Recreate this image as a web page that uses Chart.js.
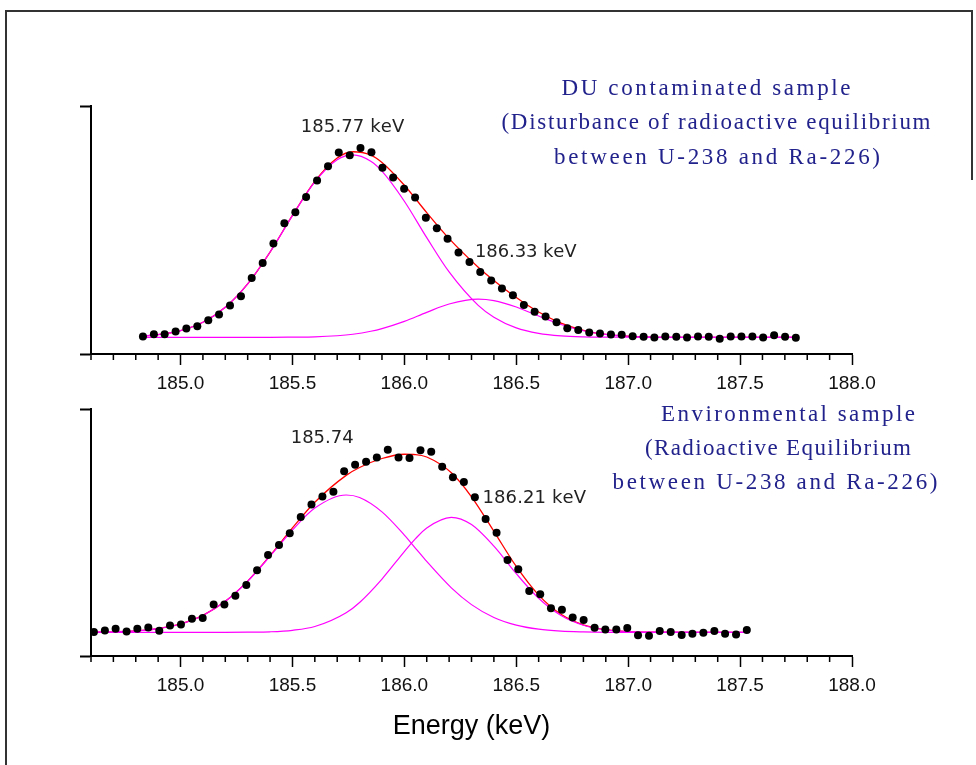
<!DOCTYPE html>
<html>
<head>
<meta charset="utf-8">
<script src="https://cdn.jsdelivr.net/npm/chart.js@4.4.1/dist/chart.umd.min.js"></script>
<style>
  body { margin: 0; background: #fff; }
  #page { position: relative; width: 976px; height: 765px; overflow: hidden; }
  canvas { position: absolute; left: 0; }
  #frame { position: absolute; left: 5px; top: 10px; width: 966px; height: 770px;
           border-left: 2px solid #333; border-top: 2px solid #333; }
  #frameRight { position: absolute; left: 971px; top: 10px; width: 0; height: 170px;
                border-left: 2px solid #333; }
</style>
</head>
<body>
<div id="page">
  <div id="frame"></div>
  <div id="frameRight"></div>
  <canvas id="topPanel" width="976" height="407" style="top:0"></canvas>
  <canvas id="lowPanel" width="976" height="365" style="top:400px"></canvas>
</div>
<script>
// axis ticks (keV)
const majorTicks = [185.0, 185.5, 186.0, 186.5, 187.0, 187.5, 188.0];
const minorTicks = [184.6, 184.7, 184.8, 184.9, 185.1, 185.2, 185.3, 185.4, 185.6, 185.7, 185.8, 185.9,
  186.1, 186.2, 186.3, 186.4, 186.6, 186.7, 186.8, 186.9, 187.1, 187.2, 187.3, 187.4,
  187.6, 187.7, 187.8, 187.9];

// DU contaminated sample - measured channels
const topEnergy = [184.832, 184.881, 184.929, 184.978, 185.026, 185.075, 185.124, 185.172, 185.221, 185.270,
  185.318, 185.367, 185.415, 185.464, 185.513, 185.561, 185.610, 185.659, 185.707, 185.756,
  185.804, 185.853, 185.902, 185.950, 185.999, 186.048, 186.096, 186.145, 186.193, 186.242,
  186.291, 186.339, 186.388, 186.436, 186.485, 186.534, 186.582, 186.631, 186.680, 186.728,
  186.777, 186.826, 186.874, 186.923, 186.971, 187.020, 187.069, 187.117, 187.166, 187.215,
  187.263, 187.312, 187.360, 187.409, 187.458, 187.506, 187.555, 187.603, 187.652, 187.701,
  187.749];
const topCounts = [17.7, 20, 20, 22.7, 25.7, 28, 34, 39.7, 49, 58.3,
  76.7, 91.7, 111.3, 131.7, 143, 158.3, 175, 189.3, 203, 200.3,
  207.7, 203.3, 187.7, 178, 166.5, 157.7, 137.3, 126.7, 116.3, 102.3,
  92.7, 82.7, 74, 66, 59.3, 49.3, 42.7, 37.7, 32, 26,
  24.3, 21.7, 20.7, 19.7, 19.3, 18, 17.3, 16.7, 17.7, 17.3,
  16.7, 17.7, 17.3, 15.3, 17.7, 17.7, 17.7, 16.7, 19, 17.3,
  16.3];

// DU contaminated sample - fitted curves
const topFitEnergy = [184.832, 184.9, 185.0, 185.1, 185.2, 185.3, 185.4, 185.5, 185.6, 185.7,
  185.77, 185.85, 185.9, 186.0, 186.1, 186.2, 186.33, 186.4, 186.5, 186.6,
  186.7, 186.8, 186.9, 187.0, 187.1, 187.3, 187.5, 187.749];
const topFitTotal = [18.2, 19.6, 23.6, 32.0, 47.1, 70.7, 102.8, 139.7, 174.0, 197.5,
  203.9, 200.5, 193.1, 170.1, 142.5, 116.3, 87.5, 74.1, 56.9, 42.3,
  31.2, 23.9, 19.8, 17.9, 17.1, 16.8, 16.8, 16.8];
const topFitPeak1 = [18.2, 19.6, 23.6, 32.0, 47.1, 70.7, 102.8, 139.5, 173.5, 195.9,
  200.8, 194.4, 184.3, 154.0, 117.3, 82.7, 49.0, 37.1, 26.3, 20.8,
  18.3, 17.3, 17.0, 16.9, 16.8, 16.8, 16.8, 16.8];
const topFitPeak2 = [16.8, 16.8, 16.8, 16.8, 16.8, 16.8, 16.8, 17.0, 17.3, 18.4,
  19.9, 22.9, 25.6, 32.9, 42.0, 50.4, 55.3, 53.8, 47.4, 38.3,
  29.7, 23.4, 19.7, 17.9, 17.1, 16.8, 16.8, 16.8];

// Environmental sample - measured channels
const lowEnergy = [184.613, 184.662, 184.710, 184.759, 184.807, 184.856, 184.905, 184.953, 185.002, 185.051,
  185.099, 185.148, 185.196, 185.245, 185.294, 185.342, 185.391, 185.440, 185.488, 185.537,
  185.585, 185.634, 185.683, 185.731, 185.780, 185.829, 185.877, 185.926, 185.974, 186.023,
  186.072, 186.120, 186.169, 186.217, 186.266, 186.315, 186.363, 186.412, 186.461, 186.509,
  186.558, 186.607, 186.655, 186.704, 186.752, 186.801, 186.850, 186.898, 186.947, 186.996,
  187.044, 187.093, 187.141, 187.190, 187.239, 187.287, 187.336, 187.385, 187.433, 187.482,
  187.530];
const lowCounts = [24.2, 25.8, 27.5, 24.8, 27.5, 28.8, 25.5, 30.8, 31.8, 37.5,
  38.2, 51.8, 51.8, 60.8, 71.5, 86.5, 101.8, 111.8, 123.8, 140.2,
  152.8, 160.8, 165.5, 186.2, 192.8, 195.8, 200.2, 207.8, 200.2, 199.5,
  207.5, 206, 190.8, 180.3, 175.3, 160, 138.2, 124.2, 96.8, 87.5,
  65.5, 62.2, 48.2, 46.5, 38.8, 36.2, 28.5, 26.8, 26.8, 28.2,
  20.8, 20.5, 25.2, 24.2, 21.2, 22.5, 23.5, 25.2, 22.5, 21.8,
  26.2];

// Environmental sample - fitted curves
const lowFitEnergy = [184.613, 184.7, 184.8, 184.9, 185.0, 185.1, 185.2, 185.3, 185.4, 185.5,
  185.6, 185.74, 185.8, 185.9, 186.0, 186.05, 186.1, 186.21, 186.3, 186.4,
  186.5, 186.6, 186.7, 186.8, 186.9, 187.0, 187.1, 187.3, 187.53];
const lowFitTotal = [24.0, 24.4, 25.3, 27.6, 32.3, 40.9, 55.1, 75.5, 101.2, 129.1,
  155.0, 182.1, 190.0, 199.1, 203.4, 203.1, 200.6, 184.7, 160.5, 125.7,
  90.3, 61.4, 42.1, 31.4, 26.5, 24.6, 24.0, 23.8, 23.8];
const lowFitPeak1 = [24.0, 24.4, 25.3, 27.6, 32.3, 40.9, 55.1, 75.4, 100.6, 127.0,
  149.1, 162.3, 159.8, 145.3, 121.9, 108.6, 95.3, 68.7, 51.8, 38.8,
  31.1, 27.0, 25.1, 24.3, 23.9, 23.8, 23.8, 23.8, 23.8];
const lowFitPeak2 = [23.8, 23.8, 23.8, 23.8, 23.8, 23.8, 23.8, 24.0, 24.4, 25.9,
  29.7, 43.6, 54.0, 77.6, 105.3, 118.3, 129.1, 139.8, 132.5, 110.7,
  83.0, 58.2, 40.8, 31.0, 26.4, 24.6, 24.0, 23.8, 23.8];

Chart.defaults.font.family = "'Liberation Sans', Arial, sans-serif";

const xy = (xs, ys) => xs.map((x, i) => ({ x: x, y: ys[i] }));

// spread a string to a given width (the original text is loosely spaced)
function drawSpaced(ctx, text, cx, cy, width) {
  const chars = [...text];
  const natural = ctx.measureText(text).width;
  const gap = chars.length > 1 ? (width - natural) / (chars.length - 1) : 0;
  let x = cx - width / 2;
  for (const ch of chars) {
    ctx.fillText(ch, x, cy);
    x += ctx.measureText(ch).width + gap;
  }
}

const panelDecor = {
  id: 'panelDecor',
  afterDraw(chart, args, opts) {
    const ctx = chart.ctx;
    const xs = chart.scales.x, ys = chart.scales.y;
    const base = chart.chartArea.bottom;
    ctx.save();
    // minor ticks
    ctx.strokeStyle = '#000';
    ctx.lineWidth = 1.5;
    ctx.beginPath();
    minorTicks.forEach(v => {
      const px = xs.getPixelForValue(v);
      ctx.moveTo(px, base);
      ctx.lineTo(px, base + 6);
    });
    ctx.stroke();
    ctx.textAlign = 'left';
    ctx.textBaseline = 'middle';
    // sample titles
    ctx.fillStyle = '#22228c';
    ctx.font = "23px 'Liberation Serif', serif";
    opts.titles.forEach(t => drawSpaced(ctx, t.text, t.cx, t.cy, t.width));
    // peak labels, placed in data units
    ctx.fillStyle = '#222';
    ctx.font = "18px 'DejaVu Sans', sans-serif";
    opts.notes.forEach(n => drawSpaced(ctx, n.text, xs.getPixelForValue(n.x), ys.getPixelForValue(n.y), n.width));
    ctx.restore();
  }
};

function makePanel(id, p) {
  return new Chart(document.getElementById(id), {
    type: 'scatter',
    data: {
      datasets: [
        { label: 'Measured', data: xy(p.energy, p.counts), pointRadius: 4, pointBackgroundColor: '#000', pointBorderWidth: 0 },
        { label: 'Peak 1', data: xy(p.fitEnergy, p.peak1), showLine: true, pointRadius: 0, borderColor: '#ff00ff', borderWidth: 1.2, cubicInterpolationMode: 'monotone' },
        { label: 'Peak 2', data: xy(p.fitEnergy, p.peak2), showLine: true, pointRadius: 0, borderColor: '#ff00ff', borderWidth: 1.2, cubicInterpolationMode: 'monotone' },
        { label: 'Fit', data: xy(p.fitEnergy, p.total), showLine: true, pointRadius: 0, borderColor: '#ff0000', borderWidth: 1.3, cubicInterpolationMode: 'monotone' }
      ]
    },
    options: {
      responsive: false,
      animation: false,
      events: [],
      layout: { padding: p.padding },
      plugins: {
        legend: { display: false },
        tooltip: { enabled: false },
        panelDecor: { titles: p.titles, notes: p.notes }
      },
      scales: {
        x: {
          type: 'linear', min: 184.6, max: 188.0,
          afterBuildTicks: s => { s.ticks = majorTicks.map(v => ({ value: v })); },
          ticks: { autoSkip: false, maxRotation: 0, padding: 7, color: '#111', font: { size: 19 },
                   callback: v => Number(v).toFixed(1) },
          grid: { drawOnChartArea: false, tickLength: 11, tickColor: '#000', tickWidth: 1.5 },
          border: { color: '#000', width: 2 },
          title: p.xTitle
        },
        y: {
          type: 'linear', min: 0, max: p.yMax,
          afterBuildTicks: s => { s.ticks = [{ value: 0 }, { value: p.yMax }]; },
          ticks: { display: false },
          grid: { drawOnChartArea: false, tickLength: 11, tickColor: '#000', tickWidth: 2 },
          border: { color: '#000', width: 2 }
        }
      }
    },
    plugins: [panelDecor]
  });
}

makePanel('topPanel', {
  energy: topEnergy, counts: topCounts,
  fitEnergy: topFitEnergy, total: topFitTotal, peak1: topFitPeak1, peak2: topFitPeak2,
  yMax: 250,
  padding: { left: 80, right: 124, top: 106, bottom: 5.2 },
  xTitle: { display: false },
  titles: [
    { text: 'DU contaminated sample', cx: 706, cy: 89, width: 289 },
    { text: '(Disturbance of radioactive equilibrium', cx: 716, cy: 123, width: 429 },
    { text: 'between U-238 and Ra-226)', cx: 717, cy: 158, width: 326 }
  ],
  notes: [
    { text: '185.77 keV', x: 185.767, y: 228, width: 103 },
    { text: '186.33 keV', x: 186.541, y: 102, width: 101 }
  ]
});

makePanel('lowPanel', {
  energy: lowEnergy, counts: lowCounts,
  fitEnergy: lowFitEnergy, total: lowFitTotal, peak1: lowFitPeak1, peak2: lowFitPeak2,
  yMax: 249,
  padding: { left: 80, right: 124, top: 9, bottom: 21.8 },
  xTitle: { display: true, text: 'Energy (keV)', color: '#000', font: { size: 27 }, padding: { top: 7, bottom: 0 } },
  titles: [
    { text: 'Environmental sample', cx: 788, cy: 15, width: 254 },
    { text: '(Radioactive Equilibrium', cx: 778, cy: 49, width: 266 },
    { text: 'between U-238 and Ra-226)', cx: 775, cy: 83, width: 325 }
  ],
  notes: [
    { text: '185.74', x: 185.633, y: 219, width: 63 },
    { text: '186.21 keV', x: 186.579, y: 159, width: 103 }
  ]
});
</script>
</body>
</html>
